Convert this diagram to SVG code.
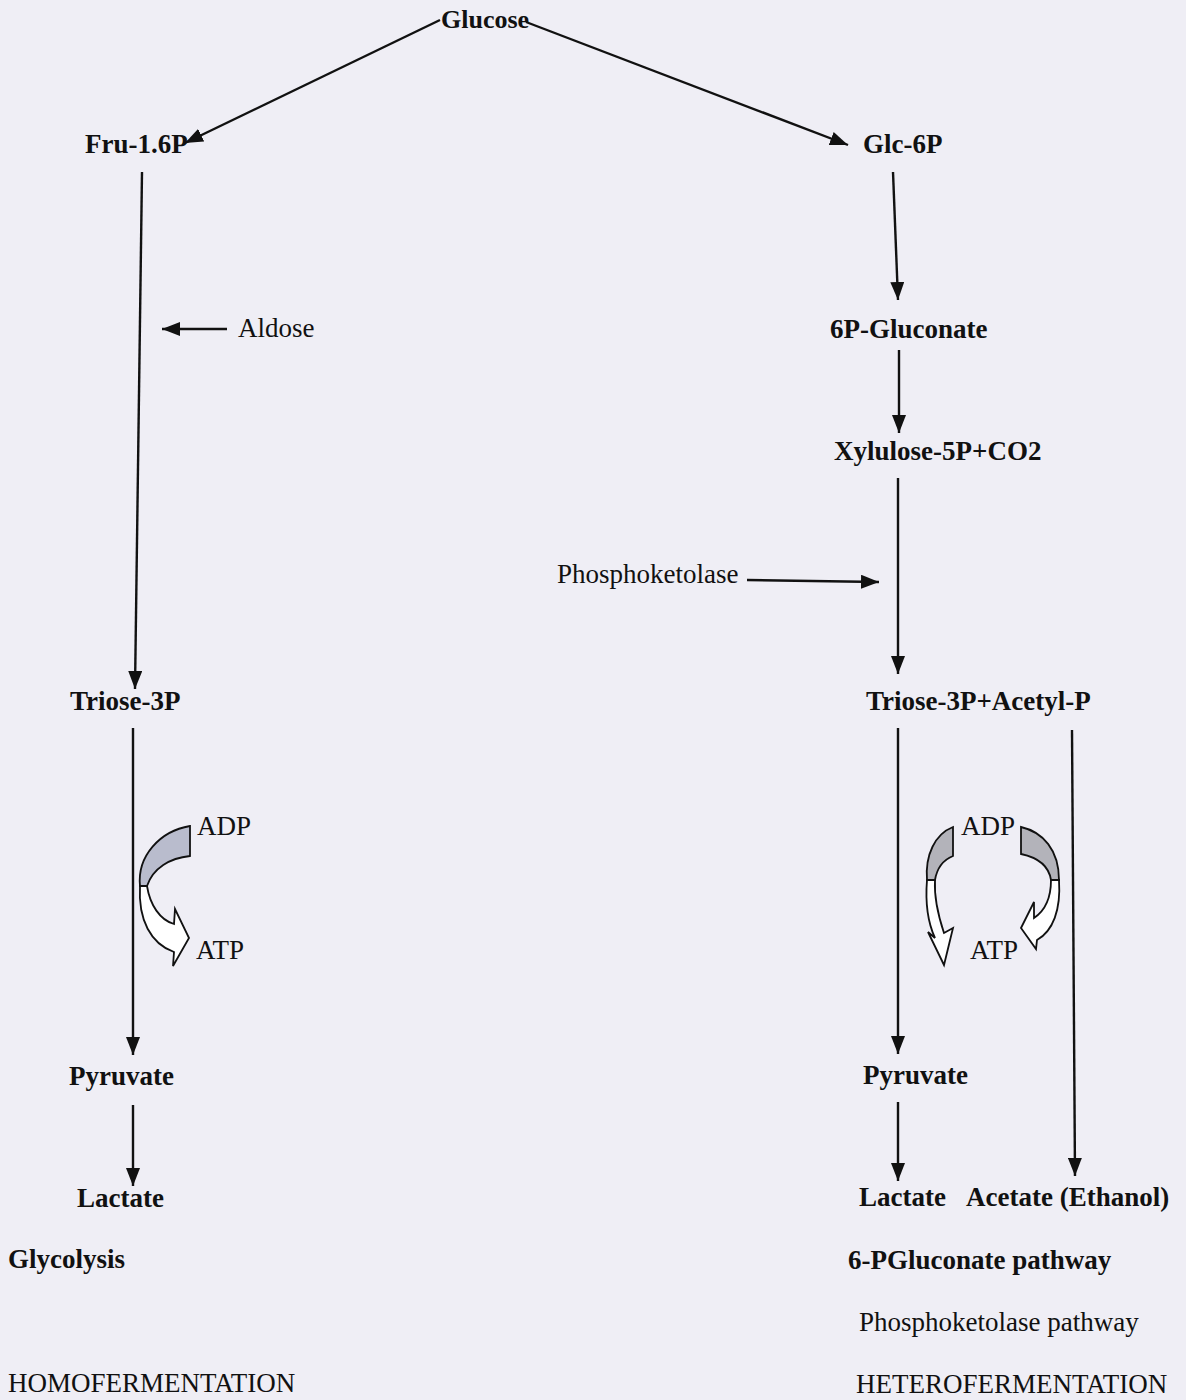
<svg xmlns="http://www.w3.org/2000/svg" width="1186" height="1400" viewBox="0 0 1186 1400">
<defs>
<style>
.b{font-family:"Liberation Serif","Times New Roman",serif;font-weight:bold;font-size:27px;fill:#111}
.r{font-family:"Liberation Serif","Times New Roman",serif;font-size:27px;fill:#111}
.ln{stroke:#111;stroke-width:2.4;fill:none}
.grey{fill:#b9bccd;stroke:#111;stroke-width:1.8}
.grey2{fill:#b3b3ba;stroke:#111;stroke-width:1.8}
.wh{fill:#ffffff;stroke:#111;stroke-width:1.8}
</style>
<marker id="ah" viewBox="0 0 18 14" refX="18" refY="7" markerWidth="18" markerHeight="14" markerUnits="userSpaceOnUse" orient="auto">
<path d="M0,0 L18,7 L0,14 z" fill="#111"/>
</marker>
</defs>
<rect width="1186" height="1400" fill="#efeef5"/>
<g id="connectors">
<line class="ln" x1="440" y1="20" x2="185" y2="143" marker-end="url(#ah)"/>
<line class="ln" x1="526" y1="22" x2="848" y2="145" marker-end="url(#ah)"/>
<line class="ln" x1="142" y1="172" x2="135" y2="689" marker-end="url(#ah)"/>
<line class="ln" x1="227" y1="329" x2="162" y2="329" marker-end="url(#ah)"/>
<line class="ln" x1="133" y1="728" x2="133" y2="1055" marker-end="url(#ah)"/>
<line class="ln" x1="133" y1="1105" x2="133" y2="1186" marker-end="url(#ah)"/>
<line class="ln" x1="893" y1="172" x2="898" y2="300" marker-end="url(#ah)"/>
<line class="ln" x1="899" y1="350" x2="899" y2="433" marker-end="url(#ah)"/>
<line class="ln" x1="898" y1="478" x2="898" y2="674" marker-end="url(#ah)"/>
<line class="ln" x1="747" y1="580" x2="879" y2="582" marker-end="url(#ah)"/>
<line class="ln" x1="898" y1="728" x2="898" y2="1054" marker-end="url(#ah)"/>
<line class="ln" x1="1072" y1="730" x2="1075" y2="1176" marker-end="url(#ah)"/>
<line class="ln" x1="898" y1="1102" x2="898" y2="1181" marker-end="url(#ah)"/>
</g>
<g id="cycle-left">
<path class="grey" d="M190,826 L190,856 C170,858 153,868 147,886 L140,886 C137,856 160,831 190,826 Z"/>
<path class="wh" d="M140,886 C138,920 151,944 174,952 L173,966 L189,938 L175,909 L174,924 C160,920 150,905 147,886 Z"/>
</g>
<g id="cycle-right-a">
<path class="grey2" d="M953,827 L953,856 C943,860 937,868 935,880 L927,880 C925,855 935,834 953,827 Z"/>
<path class="wh" d="M927,880 C925,905 929,925 935,938 L928,932 L944,965 L953,928 L944,933 C939,918 934,898 935,880 Z"/>
</g>
<g id="cycle-right-b">
<path class="grey2" d="M1021,827 L1021,854 C1040,858 1049,867 1051,880 L1059,880 C1059,850 1043,832 1021,827 Z"/>
<path class="wh" d="M1059,880 C1061,910 1053,931 1037,940 L1036,949 L1021,928 L1034,902 L1034,918 C1046,910 1051,896 1051,880 Z"/>
</g>
<g id="n-glucose"><text class="b" x="441" y="28" style="font-size:26px">Glucose</text></g>
<g id="n-fru16p"><text class="b" x="85" y="153">Fru-1.6P</text></g>
<g id="n-glc6p"><text class="b" x="863" y="153">Glc-6P</text></g>
<g id="n-aldose"><text class="r" x="238" y="337">Aldose</text></g>
<g id="n-6pgluconate"><text class="b" x="830" y="338">6P-Gluconate</text></g>
<g id="n-xylulose"><text class="b" x="834" y="460">Xylulose-5P+CO2</text></g>
<g id="n-phosphoketolase"><text class="r" x="557" y="583">Phosphoketolase</text></g>
<g id="n-triose-left"><text class="b" x="70" y="710">Triose-3P</text></g>
<g id="n-triose-right"><text class="b" x="866" y="710">Triose-3P+Acetyl-P</text></g>
<g id="n-adp-left"><text class="r" x="197" y="835">ADP</text></g>
<g id="n-atp-left"><text class="r" x="196" y="959">ATP</text></g>
<g id="n-adp-right"><text class="r" x="961" y="835">ADP</text></g>
<g id="n-atp-right"><text class="r" x="970" y="959">ATP</text></g>
<g id="n-pyruvate-left"><text class="b" x="69" y="1085">Pyruvate</text></g>
<g id="n-pyruvate-right"><text class="b" x="863" y="1084">Pyruvate</text></g>
<g id="n-lactate-left"><text class="b" x="77" y="1207">Lactate</text></g>
<g id="n-lactate-right"><text class="b" x="859" y="1206">Lactate</text></g>
<g id="n-acetate"><text class="b" x="966" y="1206">Acetate (Ethanol)</text></g>
<g id="n-glycolysis"><text class="b" x="8" y="1268">Glycolysis</text></g>
<g id="n-6pg-pathway"><text class="b" x="848" y="1269">6-PGluconate pathway</text></g>
<g id="n-pk-pathway"><text class="r" x="859" y="1331">Phosphoketolase pathway</text></g>
<g id="n-homo"><text class="r" x="8" y="1392">HOMOFERMENTATION</text></g>
<g id="n-hetero"><text class="r" x="856" y="1393">HETEROFERMENTATION</text></g>
</svg>
